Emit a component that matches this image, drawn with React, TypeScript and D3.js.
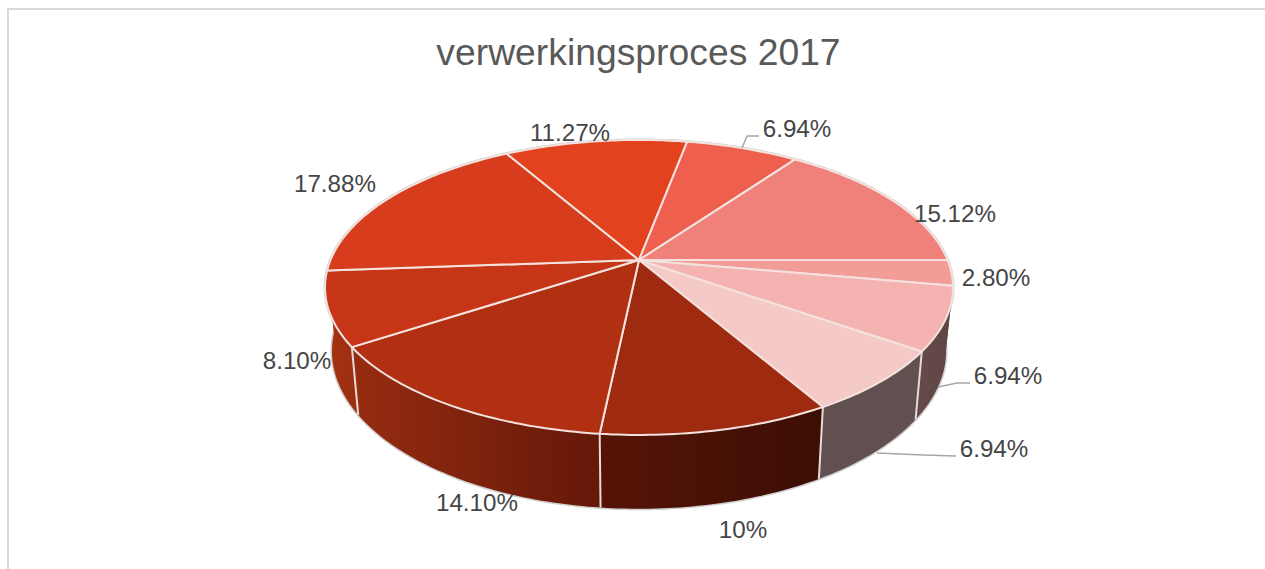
import React from "react";
import * as d3 from "d3";

const title = "verwerkingsproces 2017";
const labels = ["2.80%", "6.94%", "6.94%", "10%", "14.10%", "8.10%", "17.88%", "11.27%", "6.94%", "15.12%"];
const values = [2.8, 6.94, 6.94, 10, 14.1, 8.1, 17.88, 11.27, 6.94, 15.12];
const topColors = ["#f29d97", "#f4b3b1", "#f5c9c6", "#9e2a10", "#b23012", "#c53516", "#d73d1c", "#e2431e", "#ef5f4e", "#f0807a"];
const wallLeft = ["#6a4a48", "#644a48", "#625050", "#561407", "#962c10", "#a8330f", "#b83a18", "#b83a18", "#b83a18", "#6a4a48"];
const wallRight = ["#6a4a48", "#5e4644", "#625050", "#3c0e04", "#651809", "#9c2f12", "#b83a18", "#b83a18", "#b83a18", "#6a4a48"];
const labelAt: [number, number][] = [[996, 278], [1008, 376], [994, 449], [743, 530], [477, 503], [297, 361], [335, 184], [570, 133], [797, 129], [955, 214]];
const leaders: [number, number][][] = [
  [[742, 148], [747, 136], [759, 136]],
  [[938, 387], [957, 383], [970, 383]],
  [[877, 453], [923, 455], [956, 456]],
];

const CX = 639, CY = 260, K = 0.186, A = 308.5, B = 142.4;
const SX = 0.978, SY = 1.07, BY = 321.6;

function top(a: number): [number, number] {
  const u = Math.sin(a), v = Math.cos(a), w = 1 + K * v;
  return [CX + (A * u) / w, CY - (B * v) / w];
}
function bottom(a: number): [number, number] {
  const [x, y] = top(a);
  return [CX + SX * (x - CX), BY + SY * (y - CY)];
}
function arcPts(a0: number, a1: number, f: (a: number) => [number, number]) {
  const n = Math.max(2, Math.ceil(Math.abs(a1 - a0) * 60));
  return d3.range(n + 1).map((i) => f(a0 + ((a1 - a0) * i) / n));
}
const line = d3.line<[number, number]>();

export default function App() {
  const arcs = d3
    .pie<number>()
    .sort(null)
    .startAngle(Math.PI / 2)
    .endAngle(Math.PI / 2 + 2 * Math.PI)(values);
  const circle = arcPts(0, 2 * Math.PI, top);
  const circleB = arcPts(0, 2 * Math.PI, bottom);
  return (
    <svg width={1265} height={569} style={{ position: "fixed", left: 0, top: 0, background: "#fff" }} fontFamily="'Liberation Sans', Arial, sans-serif">
      <defs>
        {arcs.map((d, i) => {
          const xs = arcPts(d.startAngle, d.endAngle, top).map((p) => p[0]);
          return (
            <linearGradient key={i} id={`w${i}`} gradientUnits="userSpaceOnUse" x1={d3.min(xs)} x2={d3.max(xs)} y1={0} y2={0}>
              <stop offset="0" stopColor={wallLeft[i]} />
              <stop offset="1" stopColor={wallRight[i]} />
            </linearGradient>
          );
        })}
      </defs>
      <path d="M8 569V9H1265" fill="none" stroke="#d9d9d9" strokeWidth={2} />
      <text x={638.5} y={65} textAnchor="middle" fontSize={37.3} fill="#595959">{title}</text>

      <path d={line(circleB) + "Z"} fill="#5a1a0c" stroke="#cfcfcf" strokeWidth={3} />
      <path d={line(circle) + "Z"} fill="#fff" stroke="#cfcfcf" strokeWidth={3} />
      {arcs.map((d, i) => {
        const t = arcPts(d.startAngle, d.endAngle, top);
        const b = arcPts(d.startAngle, d.endAngle, bottom).reverse();
        return <path key={i} d={line([...t, ...b]) + "Z"} fill={`url(#w${i})`} />;
      })}
      {arcs
        .filter((d) => Math.cos(d.startAngle) < -0.3)
        .map((d, i) => (
          <path key={i} d={line([top(d.startAngle), bottom(d.startAngle)])!} stroke="#e6dcd9" strokeWidth={2} fill="none" />
        ))}
      {arcs.map((d, i) => (
        <path
          key={i}
          d={line([[CX, CY], ...arcPts(d.startAngle, d.endAngle, top)]) + "Z"}
          fill={topColors[i]}
          stroke="#f3e2de"
          strokeWidth={2}
          strokeLinejoin="round"
        />
      ))}
      {leaders.map((l, i) => (
        <path key={i} d={line(l)!} fill="none" stroke="#a6a6a6" strokeWidth={1.5} />
      ))}
      {labels.map((t, i) => (
        <text key={i} x={labelAt[i][0]} y={labelAt[i][1]} dy="0.35em" textAnchor="middle" fontSize={24.2} fill="#454545">{t}</text>
      ))}
    </svg>
  );
}
